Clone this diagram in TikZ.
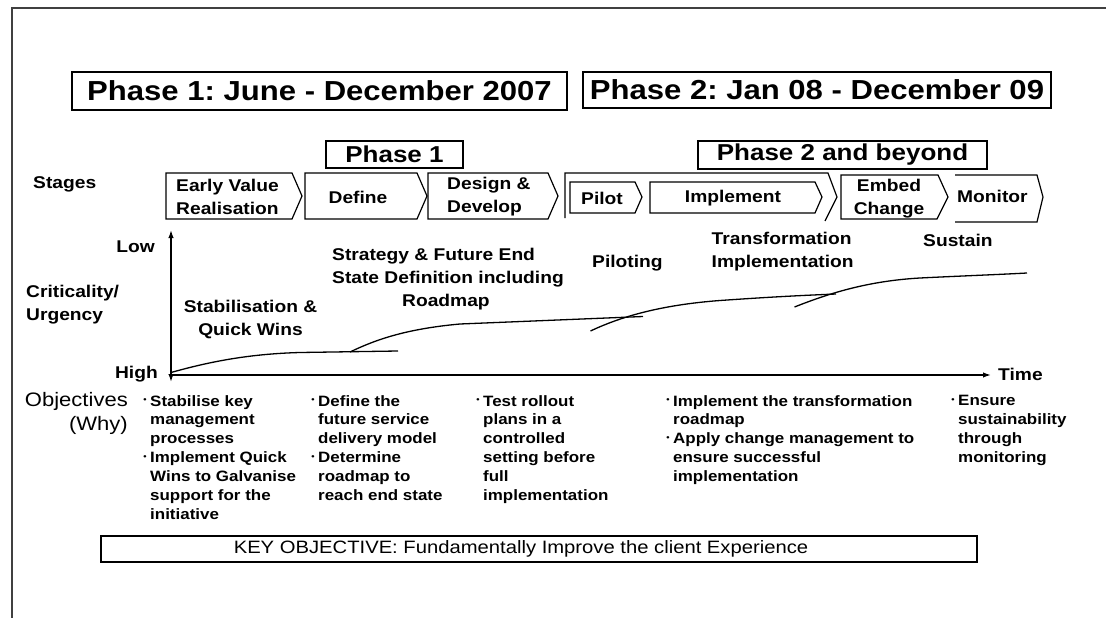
\documentclass[tikz,border=0pt]{standalone}
\usepackage{fontspec}
\usepackage{graphicx}
\setmainfont{Liberation Sans}[FakeStretch=1.13]
\usetikzlibrary{arrows.meta}
\frenchspacing
\newcommand\bul{\raisebox{0.22em}{\scalebox{0.55}{•}}\hspace{3.5pt}}
\tikzset{
  lbl/.style={font=\bfseries\fontsize{17}{23}\selectfont, inner sep=0pt},
  hbox/.style={draw, line width=1.5pt, inner sep=0pt},
  chev/.style={draw, line width=1.2pt, line join=miter},
  obj/.style={font=\bfseries\fontsize{15}{18.9}\selectfont, align=left, anchor=north west, inner sep=0pt},
  crv/.style={line width=1.3pt},
  axis/.style={line width=1.5pt},
}
\begin{document}
\begin{tikzpicture}[x=1pt,y=-1pt]
\useasboundingbox (0,0) rectangle (1106,618);
% frame
\draw[line width=2pt, black!75] (12,618) -- (12,8) -- (1106,8);

% headings
\node[hbox, minimum width=495pt, minimum height=38pt, font=\bfseries\fontsize{27.5}{30}\selectfont] (ph1) at (319.5,91) {Phase 1: June - December 2007};
\node[hbox, minimum width=468pt, minimum height=36pt, font=\bfseries\fontsize{27.5}{30}\selectfont] (ph2) at (817,90) {Phase 2: Jan 08 - December 09};
\node[hbox, minimum width=137pt, minimum height=27pt, font=\bfseries\fontsize{23}{26}\selectfont] (p1) at (394.5,154.5) {Phase 1};
\node[hbox, minimum width=289pt, minimum height=28pt, font=\bfseries\fontsize{23}{26}\selectfont] (p2) at (842.5,155) {Phase 2 and beyond};

% stages
\node[lbl, anchor=west] (stages) at (33,184) {Stages};
\draw[chev] (166,173) -- (292,173) -- (302,196) -- (292,219) -- (166,219) -- cycle;
\node[lbl, anchor=west, align=left] (evr) at (176,197) {Early Value\\Realisation};
\draw[chev] (305,173) -- (417,173) -- (427,196) -- (417,219) -- (305,219) -- cycle;
\node[lbl] (def) at (358,197) {Define};
\draw[chev] (428,173) -- (548,173) -- (558,196) -- (548,219) -- (428,219) -- cycle;
\node[lbl, anchor=west, align=left] (dd) at (447,197) {Design \&\\Develop};
\draw[chev] (565,218) -- (565,173) -- (828,173) -- (837,197) -- (825,221);
\draw[chev] (570,182) -- (635,182) -- (642,197) -- (635,213) -- (570,213) -- cycle;
\node[lbl] (pilot) at (602,198) {Pilot};
\draw[chev] (650,182) -- (815,182) -- (822,197) -- (815,213) -- (650,213) -- cycle;
\node[lbl] (impl) at (733,198) {Implement};
\draw[chev] (841,175) -- (938,175) -- (948,197) -- (937,219) -- (841,219) -- cycle;
\node[lbl, align=center] (embed) at (889,199) {Embed\\Change};
\draw[chev] (955,175) -- (1037,175) -- (1043,197) -- (1037,222) -- (955,222);
\node[lbl, anchor=west] (mon) at (957,196) {Monitor};

% axes
\coordinate (ytop) at (171,230);
\coordinate (ybot) at (171,382);
\coordinate (xo) at (171,375);
\coordinate (xend) at (991,375);
\draw[axis, {Latex[length=8pt,width=5.5pt]}-{Latex[length=8pt,width=5.5pt]}] (ybot) -- (ytop);
\draw[axis, -{Latex[length=8pt,width=5.5pt]}] (xo) -- (xend);
\node[lbl, anchor=east] (low) at (155,247) {Low};
\node[lbl, anchor=east] (high) at (158,374) {High};
\node[lbl, anchor=west] (time) at (998,374) {Time};
\node[lbl, anchor=west, align=left] (crit) at (26,305) {Criticality/\\Urgency};

% curve labels
\node[lbl, align=center] (stab) at (250.5,319.5) {Stabilisation \&\\Quick Wins};
\node[lbl, anchor=west, align=left] (strat) at (332,279) {Strategy \& Future End\\State Definition including\\\hspace*{70pt}Roadmap};
\node[lbl, anchor=west] (pil) at (592,263) {Piloting};
\node[lbl, anchor=west, align=left] (trans) at (711.5,251.5) {Transformation\\Implementation};
\node[lbl, anchor=west] (sus) at (923,240) {Sustain};

% curves
\draw[crv] (171,372.5) .. controls (205,363) and (245,354) .. (300,352.5) -- (398,351);
\draw[crv] (350,352) .. controls (375,340) and (405,329) .. (460,324) -- (643,316.5);
\draw[crv] (590.5,331) .. controls (620,317) and (660,305) .. (720,300.5) .. controls (770,297) and (800,295.5) .. (836,294);
\draw[crv] (794.5,307) .. controls (830,293) and (868,281) .. (920,278) .. controls (960,276) and (1000,274.5) .. (1027,273);

% objectives
\node[font=\fontsize{19.5}{24}\selectfont, align=right, anchor=north east, inner sep=0pt] (objl) at (128,392) {Objectives\\(Why)};
\node[obj] (o1) at (150,395) {\llap{\bul}Stabilise key\\management\\processes\\\llap{\bul}Implement Quick\\Wins to Galvanise\\support for the\\initiative};
\node[obj] (o2) at (318,395) {\llap{\bul}Define the\\future service\\delivery model\\\llap{\bul}Determine\\roadmap to\\reach end state};
\node[obj] (o3) at (483,395) {\llap{\bul}Test rollout\\plans in a\\controlled\\setting before\\full\\implementation};
\node[obj] (o4) at (673,395) {\llap{\bul}Implement the transformation\\roadmap\\\llap{\bul}Apply change management to\\ensure successful\\implementation};
\node[obj] (o5) at (958,395) {\llap{\bul}Ensure\\sustainability\\through\\monitoring};

% key objective
\node[draw, line width=1.5pt, minimum width=876pt, minimum height=26pt, inner sep=0pt] (keybox) at (539,549) {};
\node[font=\fontsize{17.9}{20}\selectfont, inner sep=0pt] (keytext) at (521,549) {KEY OBJECTIVE: Fundamentally Improve the client Experience};
\end{tikzpicture}
\end{document}
